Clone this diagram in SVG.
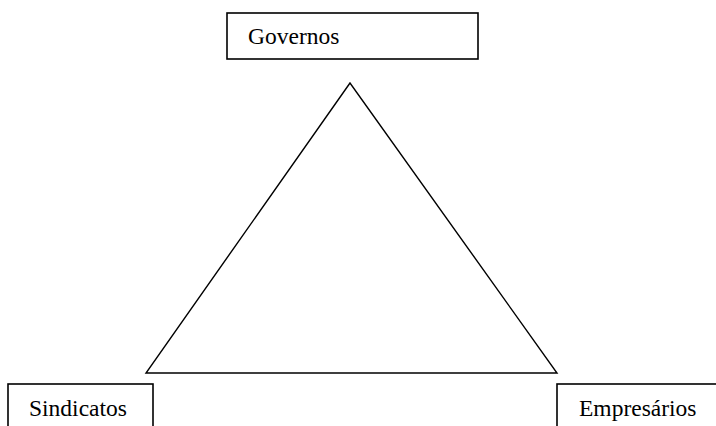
<svg xmlns="http://www.w3.org/2000/svg" width="716" height="426" viewBox="0 0 716 426">
<style>
.box{fill:#fff;stroke:#000;stroke-width:1.6}
text{font-family:'Liberation Serif','Times New Roman',Times,serif;font-size:23.5px;fill:#000}
.edge{fill:none;stroke:#000;stroke-width:1.4;stroke-linejoin:miter}
</style>
<rect width="716" height="426" fill="#fff"/>
<g id="connectors">
<polygon class="edge" points="350,83 146,373 557,373"/>
</g>
<g id="governos">
<rect class="box" x="227" y="13" width="251" height="46"/>
<text x="248" y="44" font-family="Liberation Serif, serif">Governos</text>
</g>
<g id="sindicatos">
<rect class="box" x="8" y="384" width="145" height="50"/>
<text x="29" y="415.5" font-family="Liberation Serif, serif">Sindicatos</text>
</g>
<g id="empresarios">
<rect class="box" x="557" y="384" width="170" height="50"/>
<text x="579" y="415.5" font-family="Liberation Serif, serif">Empresários</text>
</g>
</svg>
